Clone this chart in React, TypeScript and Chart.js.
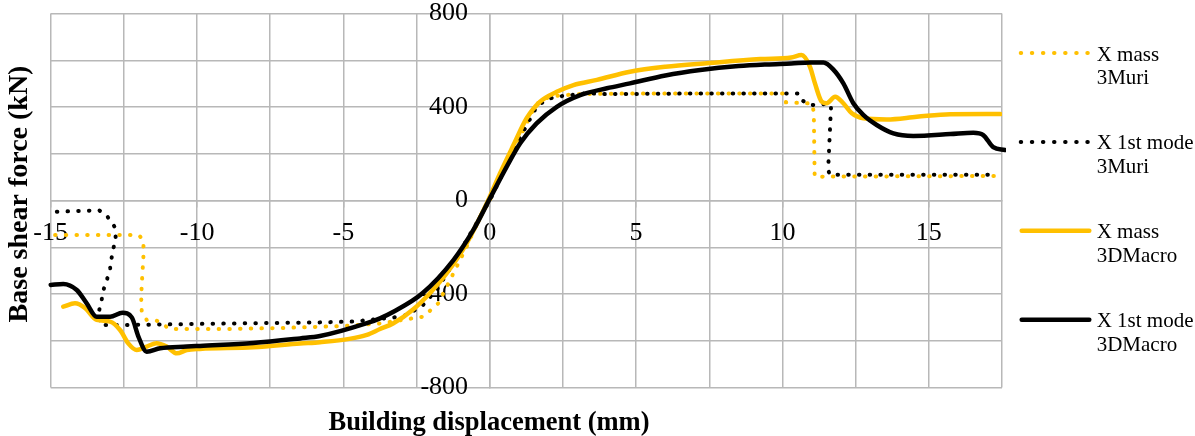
import React, { useEffect, useRef } from 'react';
import { Chart, registerables } from 'chart.js';

Chart.register(...registerables);

// ---- data ----
const massMuriX = [-14.85, -12.0, -11.85, -11.82, -11.88, -11.91, -11.89, -11.72, -11.38, -10.92, -9.0, -7.0, -5.0, -3.75, -2.84, -2.27, -1.76, -1.3, -0.79, -0.33, 0, 0.45, 0.92, 1.26, 1.55, 1.83, 2.17, 3.0, 5.0, 7.5, 10.05, 10.12, 11.0, 11.07, 11.1, 17.26];
const massMuriY = [-148, -148, -165, -212, -340, -411, -476, -511, -514, -550, -550, -545, -537, -526, -508, -497, -440, -326, -198, -69, 0, 125, 245, 330, 408, 433, 447, 455, 458, 458, 458, 420, 415, 380, 102, 105];

const modeMuriX = [-14.79, -13.34, -13.08, -12.82, -12.77, -12.88, -12.97, -13.08, -13.2, -13.26, -13.34, -13.31, -12.0, -10.0, -8.0, -6.0, -4.67, -3.3, -2.84, -2.3, -1.8, -1.3, -0.7, 0, 0.5, 1.0, 1.6, 1.95, 2.29, 3.31, 4.0, 6.0, 8.0, 10.54, 10.65, 10.94, 11.6, 11.66, 11.56, 11.62, 17.26];
const modeMuriY = [-48, -42, -66, -112, -169, -212, -290, -340, -383, -426, -468, -533, -532, -528, -525, -522, -518, -501, -490, -450, -380, -280, -150, 0, 130, 260, 401, 433, 444, 459, 455, 457, 458, 458, 430, 408, 414, 405, 130, 110, 110];

const massMacroX = [-14.57, -14.17, -13.82, -13.43, -12.97, -12.63, -12.35, -12.06, -11.72, -11.38, -11.04, -10.69, -10.35, -9.9, -8.08, -6.48, -5.8, -4.8, -4.2, -3.75, -3.29, -2.61, -2.0, -1.47, -0.79, -0.1, 0.35, 0.81, 1.26, 1.72, 2.29, 2.86, 3.66, 4.79, 6.0, 7.5, 9.24, 10.3, 10.65, 10.94, 11.11, 11.34, 11.51, 11.8, 12.08, 12.37, 12.76, 13.56, 14.59, 15.73, 17.44];
const massMacroY = [-454, -440, -461, -511, -518, -554, -611, -640, -625, -611, -625, -654, -640, -635, -628, -612, -606, -592, -575, -550, -525, -465, -390, -311, -183, -12, 116, 237, 352, 423, 465, 494, 516, 551, 572, 588, 605, 612, 622, 572, 501, 423, 416, 444, 416, 373, 352, 347, 358, 369, 370];

const modeMacroX = [-15.0, -14.57, -14.11, -13.77, -13.43, -12.97, -12.55, -12.23, -12.0, -11.72, -11.26, -10.35, -9.9, -8.08, -6.48, -5.8, -4.2, -3.75, -3.29, -2.3, -1.24, -0.56, 0.01, 0.58, 1.04, 1.6, 2.29, 3.09, 4.0, 4.79, 6.0, 7.19, 8.5, 9.46, 10.3, 10.94, 11.4, 11.74, 12.08, 12.42, 12.76, 13.22, 13.79, 14.47, 15.73, 16.52, 16.86, 17.2, 17.6];
const modeMacroY = [-361, -357, -383, -440, -497, -497, -480, -500, -583, -647, -632, -625, -622, -610, -590, -580, -525, -504, -476, -397, -255, -126, 10, 145, 245, 330, 401, 451, 480, 501, 535, 558, 575, 582, 586, 590, 590, 560, 501, 416, 366, 323, 287, 276, 284, 290, 280, 228, 216];

const seriesNames = [
  ['X mass', '3Muri'],
  ['X 1st mode', '3Muri'],
  ['X mass', '3DMacro'],
  ['X 1st mode', '3DMacro'],
];
const xTitle = 'Building displacement (mm)';
const yTitle = 'Base shear force (kN)';
const xMin = -15;
const xMax = 17.5;
const xStep = 2.5;
const xLabelEvery = 5;
const yMin = -800;
const yMax = 800;
const yStep = 200;
const yLabelEvery = 400;

// ---- styles ----
const SERIF = "'Liberation Serif', 'Times New Roman', serif";
const GOLD = '#FFC000';
const BLACK = '#000000';
const GRID = '#b8b8b8';
const DOT_DASH = [0.5, 10.2];
// gap between the y tick labels and the y axis (the axis sits at x = 0)
const Y_LABEL_GAP = '   \u200A';

function pts(xs: number[], ys: number[]) {
  return xs.map((x, i) => ({ x, y: ys[i] }));
}

function isMultiple(v: number, m: number) {
  const r = Math.abs(v / m - Math.round(v / m));
  return r < 1e-6;
}

const overlayPlugin = {
  id: 'overlay',
  afterDraw(chart: any) {
    const ctx = chart.ctx as CanvasRenderingContext2D;
    ctx.save();
    ctx.fillStyle = '#000';
    // axis titles
    ctx.font = `bold 26.5px ${SERIF}`;
    ctx.textAlign = 'center';
    ctx.textBaseline = 'alphabetic';
    ctx.fillText(xTitle, 489, 429.5);
    ctx.save();
    ctx.translate(26.5, 194);
    ctx.rotate(-Math.PI / 2);
    ctx.font = `bold 28px ${SERIF}`;
    ctx.fillText(yTitle, 0, 0);
    ctx.restore();

    // legend
    const x0 = 1020.7;
    const x1 = 1087.3;
    const tx = 1096.7;
    chart.data.datasets.forEach((ds: any, i: number) => {
      const y = 55 + i * 88.9;
      ctx.save();
      ctx.strokeStyle = ds.borderColor;
      ctx.lineWidth = ds.borderWidth;
      ctx.lineCap = 'round';
      if (ds.borderDash && ds.borderDash.length) {
        ctx.setLineDash([0.5, 10.6]);
        ctx.beginPath();
        ctx.moveTo(x0, y - 2);
        ctx.lineTo(x1 + 0.5, y - 2);
        ctx.stroke();
      } else {
        ctx.setLineDash([]);
        ctx.beginPath();
        ctx.moveTo(x0 + 1, y - 2);
        ctx.lineTo(x1 + 2, y - 2);
        ctx.stroke();
      }
      ctx.restore();
      ctx.font = `21px ${SERIF}`;
      ctx.textAlign = 'left';
      ctx.textBaseline = 'middle';
      const lines = seriesNames[i];
      lines.forEach((t, k) => ctx.fillText(t, tx, y + k * 23.3));
    });
    ctx.restore();
  },
};

export default function App() {
  const ref = useRef<HTMLCanvasElement | null>(null);

  useEffect(() => {
    if (!ref.current) return;
    const chart = new Chart(ref.current, {
      type: 'scatter',
      data: {
        datasets: [
          {
            label: seriesNames[0].join(' '),
            data: pts(massMuriX, massMuriY),
            showLine: true,
            borderColor: GOLD,
            backgroundColor: GOLD,
            borderWidth: 4,
            borderDash: DOT_DASH,
            borderCapStyle: 'round',
            pointRadius: 0,
            tension: 0,
            order: 3,
          },
          {
            label: seriesNames[1].join(' '),
            data: pts(modeMuriX, modeMuriY),
            showLine: true,
            borderColor: BLACK,
            backgroundColor: BLACK,
            borderWidth: 4,
            borderDash: DOT_DASH,
            borderCapStyle: 'round',
            pointRadius: 0,
            tension: 0,
            order: 2,
          },
          {
            label: seriesNames[2].join(' '),
            data: pts(massMacroX, massMacroY),
            showLine: true,
            borderColor: GOLD,
            backgroundColor: GOLD,
            borderWidth: 4.5,
            borderCapStyle: 'round',
            borderJoinStyle: 'round',
            pointRadius: 0,
            cubicInterpolationMode: 'monotone',
            order: 1,
          },
          {
            label: seriesNames[3].join(' '),
            data: pts(modeMacroX, modeMacroY),
            showLine: true,
            borderColor: BLACK,
            backgroundColor: BLACK,
            borderWidth: 4.5,
            borderCapStyle: 'round',
            borderJoinStyle: 'round',
            pointRadius: 0,
            cubicInterpolationMode: 'monotone',
            clip: 4,
            order: 0,
          },
        ],
      } as any,
      options: {
        animation: false,
        responsive: true,
        maintainAspectRatio: false,
        layout: { padding: { left: 50.7, top: 13.5, right: 193, bottom: 48.5 } },
        plugins: { legend: { display: false }, tooltip: { enabled: false } },
        events: [],
        scales: {
          x: {
            type: 'linear',
            min: xMin,
            max: xMax,
            position: { y: 0 } as any,
            ticks: {
              stepSize: xStep,
              autoSkip: false,
              maxRotation: 0,
              padding: 14,
              color: '#000',
              font: { family: SERIF, size: 26, lineHeight: 1 },
              callback: (v: any) => (isMultiple(Number(v), xLabelEvery) ? String(v) : ''),
            },
            grid: {
              color: GRID,
              lineWidth: 1.5,
              tickLength: 6,
              tickColor: (c: any) =>
                c.tick && isMultiple(c.tick.value, xLabelEvery) ? GRID : 'rgba(0,0,0,0)',
            },
            border: { display: true, color: GRID, width: 1.5 },
          },
          y: {
            type: 'linear',
            min: yMin,
            max: yMax,
            position: { x: 0 } as any,
            ticks: {
              stepSize: yStep,
              autoSkip: false,
              padding: 0,
              color: '#000',
              font: { family: SERIF, size: 26, lineHeight: 1 },
              callback: (v: any) =>
                isMultiple(Number(v), yLabelEvery) ? String(v) + Y_LABEL_GAP : '',
            },
            grid: {
              color: GRID,
              lineWidth: 1.5,
              tickLength: 6,
              tickColor: 'rgba(0,0,0,0)',
            },
            border: { display: true, color: GRID, width: 1.5 },
          },
        },
      } as any,
      plugins: [overlayPlugin],
    });
    return () => chart.destroy();
  }, []);

  return (
    <div style={{ position: 'absolute', left: 0, top: 0, width: 1195, height: 436 }}>
      <canvas ref={ref} />
    </div>
  );
}
